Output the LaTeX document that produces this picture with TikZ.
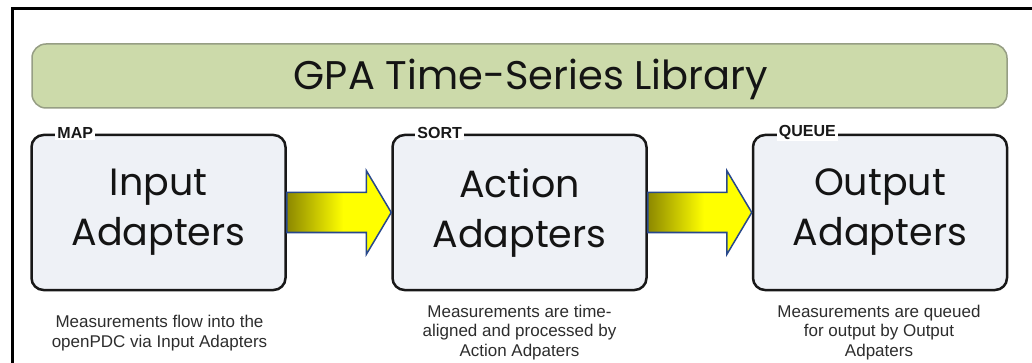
\documentclass[tikz,border=0pt]{standalone}
\usepackage{fontspec}
\setmainfont{Liberation Sans}
\newfontfamily\geofont{Poppins}
\usetikzlibrary{calc}
\definecolor{bannerfill}{RGB}{204,218,170}
\definecolor{bannerline}{RGB}{150,158,132}
\definecolor{boxfill}{RGB}{238,241,246}
\definecolor{boxline}{RGB}{24,24,24}
\definecolor{arrdark}{RGB}{140,136,0}
\definecolor{arrbright}{RGB}{255,255,0}
\definecolor{arrline}{RGB}{40,72,140}
\definecolor{captext}{RGB}{45,45,45}
\pgfdeclarehorizontalshading{arrowshade}{100bp}{color(0bp)=(arrdark); color(25bp)=(arrdark); color(52bp)=(arrbright); color(100bp)=(arrbright)}
\tikzset{
  stagebox/.style={draw=boxline, line width=2.5pt, fill=boxfill, rounded corners=12pt,
    minimum width=254pt, minimum height=155pt, inner sep=0pt, align=center,
    font=\geofont\fontsize{38}{50}\selectfont, text=black!92},
  tagtext/.style={fill=white, inner xsep=2pt, inner ysep=1.5pt, anchor=west,
    font=\bfseries\fontsize{16}{18}\selectfont, text=black!90},
  captext/.style={align=center, font=\fontsize{17}{19.5}\selectfont, text=captext},
  flowarrow/.style={draw=arrline, line width=1.5pt, shading=arrowshade, line join=miter}
}
\begin{document}
\begin{tikzpicture}[x=1pt,y=-1pt]
\useasboundingbox (0,0) rectangle (1032,363);
% outer frame
\draw[line width=3pt, black] (1034,8.5) -- (12.5,8.5) -- (12.5,365);
% banner
\node[draw=bannerline, line width=1.5pt, fill=bannerfill, rounded corners=14pt,
  minimum width=975pt, minimum height=64pt, inner sep=0pt] (banner) at (519.5,76) {};
\node[font=\geofont\fontsize{40}{44}\selectfont, text=black!92, anchor=base] (title) at (531,90) {GPA Time-Series Library};
% stages
\node[stagebox] (b1) at (158.5,212.5) {Input\\Adapters};
\node[stagebox] (b2) at (519.5,212.5) {Action\\Adapters};
\node[stagebox] (b3) at (880,212.5) {Output\\Adapters};
% tags
\node[tagtext] (t1) at ($(b1.north west)+(25,-1)$) {MAP};
\node[tagtext] (t2) at ($(b2.north west)+(24,-1)$) {SORT};
\node[tagtext] (t3) at ($(b3.north west)+(25,-1)$) {QUEUE};
% arrows
\foreach \a/\b in {b1/b2, b2/b3}{
  \path[flowarrow] ($(\a.east)+(0,-20)$) -- ($(\b.west)+(-25,-20)$) -- ($(\b.west)+(-25,-42)$)
    -- (\b.west) -- ($(\b.west)+(-25,42)$) -- ($(\b.west)+(-25,20)$) -- ($(\a.east)+(0,20)$) -- cycle;
}
% captions
\node[captext] (c1) at ($(b1.south)+(1,42)$) {Measurements flow into the\\openPDC via Input Adapters};
\node[captext] (c2) at ($(b2.south)+(0,41)$) {Measurements are time-\\aligned and processed by\\Action Adpaters};
\node[captext] (c3) at ($(b3.south)+(-1,41)$) {Measurements are queued\\for output by Output\\Adpaters};
\end{tikzpicture}
\end{document}
